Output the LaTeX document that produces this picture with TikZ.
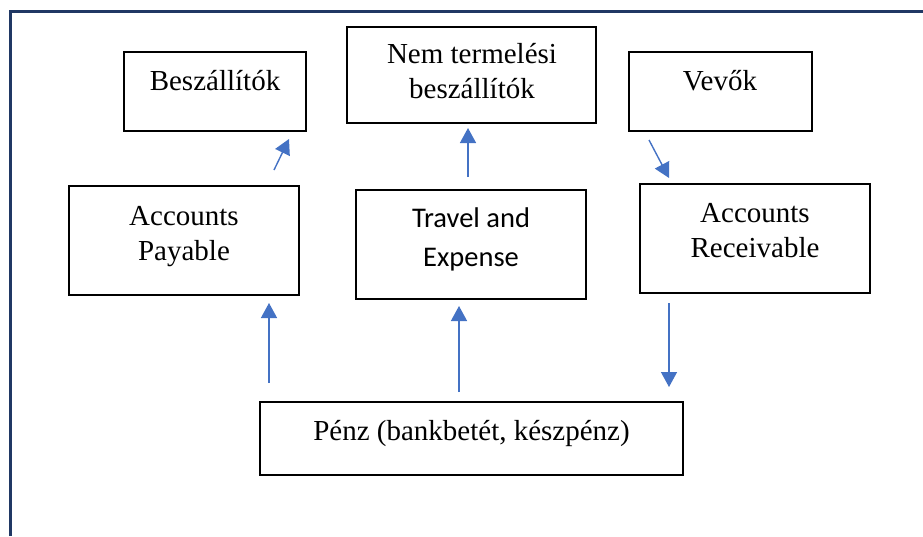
\documentclass[tikz,border=0pt]{standalone}
\usepackage{fontspec}
\setmainfont{Liberation Serif}
\newfontfamily\calibri{Carlito}
\usetikzlibrary{arrows.meta}
\definecolor{framec}{HTML}{203864}
\definecolor{arrowc}{HTML}{4472C4}
\tikzset{
  box/.style={draw=black, line width=1.8pt, inner sep=0pt, rectangle},
  lbl/.style={anchor=base, align=center, inner sep=0pt, font=\fontsize{29pt}{35pt}\selectfont},
  lblsans/.style={anchor=base, align=center, inner sep=0pt, font=\calibri\fontsize{28.5pt}{39pt}\selectfont},
  flow/.style={draw=arrowc, line width=1.4pt, -{Triangle[width=16pt,length=15pt]}},
}
\begin{document}
\begin{tikzpicture}[x=1pt,y=-1pt]
\useasboundingbox (0,0) rectangle (923,536);
% outer frame (top and left)
\draw[framec, line width=3pt] (10,536) -- (10,11.5) -- (923,11.5);
% boxes
\node[box, minimum width=182pt, minimum height=79pt] (besz) at (215,91.5) {};
\node[box, minimum width=249pt, minimum height=96pt] (nem) at (471.5,75) {};
\node[box, minimum width=183pt, minimum height=79pt] (vevo) at (720.5,91.5) {};
\node[box, minimum width=230pt, minimum height=109pt] (ap) at (184,240.5) {};
\node[box, minimum width=230pt, minimum height=109pt] (te) at (471,244.5) {};
\node[box, minimum width=230pt, minimum height=109pt] (ar) at (755,238.5) {};
\node[box, minimum width=423pt, minimum height=73pt] (penz) at (471.5,438.5) {};
% texts (base anchor = baseline of the last line)
\node[lbl] (beszt) at (215,90) {Beszállítók};
\node[lbl] (nemt) at (472,98) {Nem termelési\\beszállítók};
\node[lbl] (vevot) at (720,90) {Vevők};
\node[lbl] (apt) at (184,260) {Accounts\\Payable};
\node[lblsans] (tet) at (471,266) {Travel and\\Expense};
\node[lbl] (art) at (755,257) {Accounts\\Receivable};
\node[lbl] (penzt) at (471.5,440) {Pénz (bankbetét, készpénz)};
% arrow end points
\coordinate (a1s) at (269,383); \coordinate (a1e) at (269,303);
\coordinate (a2s) at (459,392); \coordinate (a2e) at (459,306);
\coordinate (a3s) at (669,303); \coordinate (a3e) at (669,387);
\coordinate (a4s) at (274,170); \coordinate (a4e) at (289,139);
\coordinate (a5s) at (468,177); \coordinate (a5e) at (468,128);
\coordinate (a6s) at (649,140); \coordinate (a6e) at (669,178);
\draw[flow] (a1s) -- (a1e);
\draw[flow] (a2s) -- (a2e);
\draw[flow] (a3s) -- (a3e);
\draw[flow] (a4s) -- (a4e);
\draw[flow] (a5s) -- (a5e);
\draw[flow] (a6s) -- (a6e);
\end{tikzpicture}
\end{document}
